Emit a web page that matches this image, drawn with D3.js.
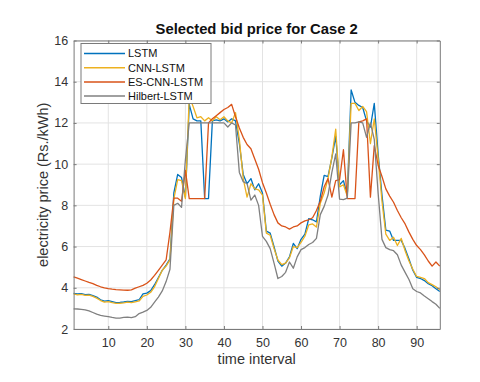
<!DOCTYPE html>
<html>
<head>
<meta charset="utf-8">
<script src="https://cdn.jsdelivr.net/npm/d3@7"></script>
<style>
  body { margin: 0; background: #fff; }
  svg { font-family: "Liberation Sans", Arial, sans-serif; }
</style>
</head>
<body>
<div id="chart"></div>
<script>
// series values (bid price per time interval, Rs./kWh)
const seriesNames = ['LSTM', 'CNN-LSTM', 'ES-CNN-LSTM', 'Hilbert-LSTM'];
const seriesColors = ['#0072BD', '#EDB120', '#D95319', '#808080'];

const lstm = [3.73, 3.70, 3.72, 3.67, 3.68, 3.62, 3.55, 3.42, 3.35, 3.38,
  3.33, 3.28, 3.29, 3.31, 3.34, 3.33, 3.38, 3.42, 3.70, 3.74,
  3.86, 4.15, 4.50, 4.85, 5.10, 5.40, 8.60, 9.50, 9.35, 8.40,
  12.90, 12.20, 12.10, 12.10, 8.33, 8.33, 12.10, 12.15, 12.10, 12.20,
  12.05, 12.20, 12.10, 11.00, 9.50, 9.05, 9.30, 8.75, 9.05, 8.60,
  6.75, 6.65, 6.00, 5.30, 5.05, 5.20, 5.50, 6.15, 5.90, 6.35,
  6.60, 7.35, 7.30, 7.20, 8.45, 9.45, 9.40, 10.30, 11.35, 9.00,
  9.20, 8.50, 13.60, 13.00, 12.85, 12.75, 12.10, 11.80, 12.95, 10.50,
  8.50, 6.80, 6.75, 6.30, 6.30, 6.30, 5.90, 5.40, 4.85, 4.50,
  4.45, 4.35, 4.20, 4.10, 3.95, 3.82];

const cnnLstm = [3.70, 3.66, 3.68, 3.63, 3.64, 3.58, 3.50, 3.38, 3.30, 3.33,
  3.28, 3.24, 3.25, 3.27, 3.30, 3.28, 3.32, 3.36, 3.58, 3.65,
  3.78, 4.05, 4.45, 4.85, 5.05, 5.35, 8.30, 9.25, 9.20, 8.33,
  13.30, 12.80, 12.25, 12.30, 12.10, 12.25, 12.10, 12.30, 12.15, 12.30,
  12.10, 12.00, 12.50, 11.20, 9.30, 8.40, 9.05, 8.80, 8.75, 8.50,
  6.65, 6.55, 5.90, 5.35, 5.12, 5.20, 5.45, 6.00, 5.95, 6.20,
  6.50, 7.05, 7.10, 6.95, 8.10, 8.60, 9.30, 10.35, 11.70, 8.90,
  9.00, 8.45, 12.95, 12.95, 12.60, 12.80, 12.55, 11.00, 12.20, 10.30,
  8.20, 6.60, 6.30, 6.45, 6.05, 6.40, 5.80, 5.30, 4.90, 4.55,
  4.50, 4.45, 4.25, 4.15, 4.05, 3.90];

const esCnnLstm = [4.53, 4.47, 4.40, 4.33, 4.26, 4.20, 4.12, 4.05, 4.00, 3.96,
  3.93, 3.91, 3.90, 3.89, 3.88, 3.90, 3.98, 4.05, 4.12, 4.22,
  4.38, 4.60, 4.85, 5.10, 5.35, 6.70, 8.35, 8.35, 8.20, 9.70,
  8.33, 8.33, 8.33, 8.33, 8.33, 12.00, 12.20, 12.35, 12.50, 12.65,
  12.75, 12.90, 12.30, 11.75, 11.30, 10.95, 10.75, 10.25, 9.75, 9.10,
  8.60, 8.05, 7.55, 7.15, 7.00, 6.95, 6.85, 6.95, 7.00, 7.15,
  7.25, 7.30, 7.40, 7.75, 8.20, 8.90, 9.30, 8.40, 9.20, 9.25,
  10.70, 8.33, 8.33, 8.33, 12.05, 12.10, 12.20, 8.40, 10.90, 9.95,
  9.40, 8.80, 8.45, 8.15, 7.75, 7.40, 7.10, 6.70, 6.35, 6.05,
  5.85, 5.60, 5.30, 5.05, 5.25, 5.05];

const hilbertLstm = [2.98, 2.97, 2.95, 2.93, 2.88, 2.80, 2.72, 2.66, 2.63, 2.60,
  2.56, 2.53, 2.53, 2.56, 2.58, 2.55, 2.60, 2.75, 2.82, 2.90,
  3.05, 3.30, 3.55, 3.85, 4.30, 4.90, 8.00, 8.10, 7.90, 10.20,
  12.00, 12.00, 12.00, 12.00, 12.00, 12.00, 12.00, 12.00, 12.00, 12.00,
  11.80, 12.00, 11.90, 9.60, 9.15, 9.05, 8.25, 8.50, 8.00, 6.50,
  6.25, 5.90, 5.20, 4.45, 4.55, 4.75, 5.25, 4.95, 5.50, 5.85,
  5.95, 6.10, 6.20, 6.40, 7.55, 7.95, 8.50, 9.60, 10.50, 8.30,
  8.28, 8.35, 12.00, 12.00, 12.05, 12.00, 11.30, 12.00, 11.20, 8.60,
  6.35, 5.95, 5.85, 5.80, 5.60, 5.10, 4.75, 4.40, 3.95, 3.82,
  3.75, 3.60, 3.47, 3.33, 3.20, 3.00];

const xTicks = [10, 20, 30, 40, 50, 60, 70, 80, 90];
const yTicks = [2, 4, 6, 8, 10, 12, 14, 16];

const allSeries = [lstm, cnnLstm, esCnnLstm, hilbertLstm];

const width = 480, height = 382;
const margin = {top: 40.5, right: 40.2, bottom: 53, left: 73.6};

const svg = d3.select('#chart').append('svg')
  .attr('width', width)
  .attr('height', height);

const x = d3.scaleLinear()
  .domain([1, 96])
  .range([margin.left, width - margin.right]);
const y = d3.scaleLinear()
  .domain([2, 16])
  .range([height - margin.bottom, margin.top]);

const axisColor = '#7a7a7a';
const textColor = '#333333';

// grid
const grid = svg.append('g');
grid.selectAll('line.gx')
  .data(xTicks)
  .join('line')
  .attr('x1', d => x(d)).attr('x2', d => x(d))
  .attr('y1', y(2)).attr('y2', y(16))
  .attr('stroke', '#e3e3e3')
  .attr('stroke-width', 1);
grid.selectAll('line.gy')
  .data(yTicks)
  .join('line')
  .attr('x1', x(1)).attr('x2', x(96))
  .attr('y1', d => y(d)).attr('y2', d => y(d))
  .attr('stroke', '#e3e3e3')
  .attr('stroke-width', 1);

// lines, in plotting order
const line = d3.line()
  .x((d, i) => x(i + 1))
  .y(d => y(d));

svg.append('g')
  .selectAll('path')
  .data(allSeries)
  .join('path')
  .attr('d', d => line(d))
  .attr('fill', 'none')
  .attr('stroke', (d, i) => seriesColors[i])
  .attr('stroke-width', 1.3)
  .attr('stroke-linejoin', 'round');

// axes (ticks inside, box on)
const xAxis = svg.append('g')
  .attr('transform', `translate(0,${y(2)})`)
  .call(d3.axisBottom(x).tickValues(xTicks).tickSizeInner(-3).tickSizeOuter(0).tickPadding(9));
const yAxis = svg.append('g')
  .attr('transform', `translate(${x(1)},0)`)
  .call(d3.axisLeft(y).tickValues(yTicks).tickSizeInner(-3).tickSizeOuter(0).tickPadding(5.5));
const xTop = svg.append('g')
  .attr('transform', `translate(0,${y(16)})`)
  .call(d3.axisTop(x).tickValues(xTicks).tickSizeInner(-3).tickSizeOuter(0).tickFormat(''));
const yRight = svg.append('g')
  .attr('transform', `translate(${x(96)},0)`)
  .call(d3.axisRight(y).tickValues(yTicks).tickSizeInner(-3).tickSizeOuter(0).tickFormat(''));

[xAxis, yAxis, xTop, yRight].forEach(g => {
  g.select('.domain').attr('stroke', axisColor);
  g.selectAll('.tick line').attr('stroke', axisColor);
  g.selectAll('.tick text')
    .attr('fill', textColor)
    .style('font-size', '12.5px')
    .style('font-family', '"Liberation Sans", Arial, sans-serif');
});

// title and labels
svg.append('text')
  .attr('x', (x(1) + x(96)) / 2)
  .attr('y', 34)
  .attr('text-anchor', 'middle')
  .style('font-size', '14.8px')
  .style('font-weight', 'bold')
  .attr('fill', '#111')
  .text('Selected bid price for Case 2');

svg.append('text')
  .attr('x', (x(1) + x(96)) / 2)
  .attr('y', 364)
  .attr('text-anchor', 'middle')
  .style('font-size', '14.5px')
  .attr('fill', textColor)
  .text('time interval');

svg.append('text')
  .attr('transform', `translate(48,${(y(2) + y(16)) / 2}) rotate(-90)`)
  .attr('text-anchor', 'middle')
  .style('font-size', '14.5px')
  .attr('fill', textColor)
  .text('electricity price (Rs./kWh)');

// legend
const legend = svg.append('g')
  .attr('transform', 'translate(81,43.5)');
legend.append('rect')
  .attr('width', 130)
  .attr('height', 60)
  .attr('fill', '#fff')
  .attr('stroke', axisColor)
  .attr('stroke-width', 1);
const items = legend.selectAll('g.item')
  .data(seriesNames)
  .join('g')
  .attr('transform', (d, i) => `translate(0,${10 + i * 14.2})`);
items.append('line')
  .attr('x1', 3).attr('x2', 44)
  .attr('stroke', (d, i) => seriesColors[i])
  .attr('stroke-width', 1.5);
items.append('text')
  .attr('x', 47)
  .attr('dy', '0.36em')
  .style('font-size', '11px')
  .attr('fill', '#111')
  .text(d => d);
</script>
</body>
</html>
